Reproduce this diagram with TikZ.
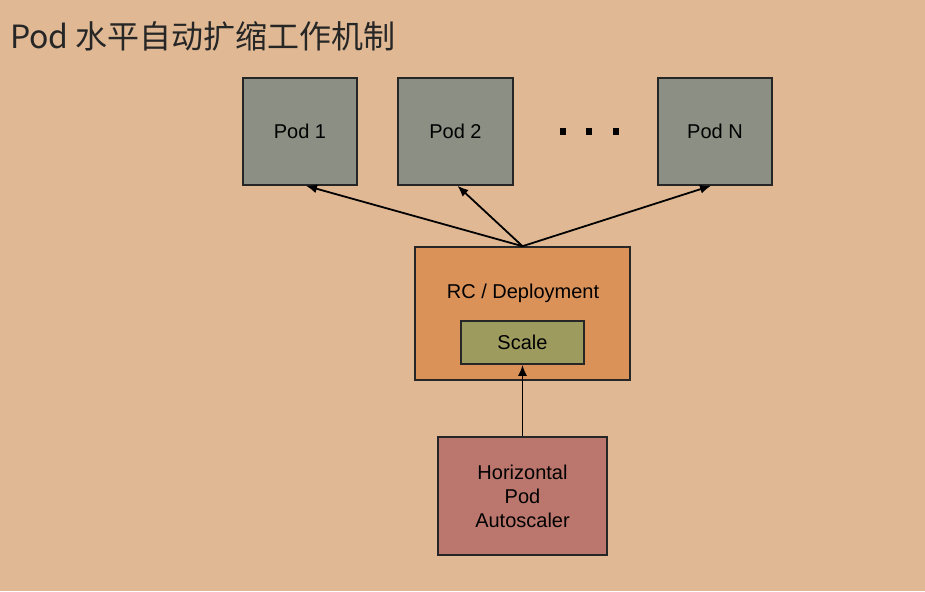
\documentclass[tikz,border=0pt]{standalone}
\usepackage{fontspec}
\setmainfont{Liberation Sans}
\newfontfamily\cjk{Noto Sans CJK SC}
\usetikzlibrary{arrows.meta}
\definecolor{bgc}{HTML}{E0B994}
\definecolor{podc}{HTML}{8C8F83}
\definecolor{rcc}{HTML}{DB9259}
\definecolor{scalec}{HTML}{9E9B5F}
\definecolor{hpac}{HTML}{BB776D}
\tikzset{
  txt/.style={font=\fontsize{20}{24}\selectfont},
  box/.style={draw=black!85, line width=1.6pt, inner sep=0pt, align=center, txt},
  podbox/.style={box, fill=podc, minimum width=114pt, minimum height=107pt},
  conn/.style={line width=1.8pt, -{Latex[length=11pt,width=9pt]}}
}
\begin{document}
\begin{tikzpicture}[x=1pt,y=-1pt]
\fill[bgc] (0,0) rectangle (925,591);
\useasboundingbox (0,0) rectangle (925,591);
\node[anchor=base west, inner sep=0pt, font=\cjk\fontsize{32}{38}\selectfont, text=black!85] (title) at (10,49) {Pod 水平自动扩缩工作机制};
\node[podbox] (pod1) at (300,131.5) {Pod 1};
\node[podbox, minimum width=115pt] (pod2) at (455.5,131.5) {Pod 2};
\node[podbox] (podn) at (715,131.5) {Pod N};
\foreach \x in {563,589,616} \fill (\x-3.2,131.5-3.2) rectangle (\x+3.2,131.5+3.2);
\node[box, fill=rcc, minimum width=215pt, minimum height=133pt] (rc) at (522.5,313.5) {};
\node[txt, inner sep=0pt] (rclabel) at (523,293) {RC / Deployment};
\node[box, fill=scalec, minimum width=123pt, minimum height=43pt] (scale) at (522.5,342.5) {Scale};
\node[box, fill=hpac, minimum width=169pt, minimum height=118pt] (hpa) at (522.5,496) {Horizontal\\Pod\\Autoscaler};
\draw[conn] (rc.north) -- ([xshift=6pt]pod1.south);
\draw[conn] (rc.north) -- ([xshift=2pt]pod2.south);
\draw[conn] (rc.north) -- ([xshift=-4pt]podn.south);
\draw[conn] (hpa.north) -- (scale.south);
\end{tikzpicture}
\end{document}
